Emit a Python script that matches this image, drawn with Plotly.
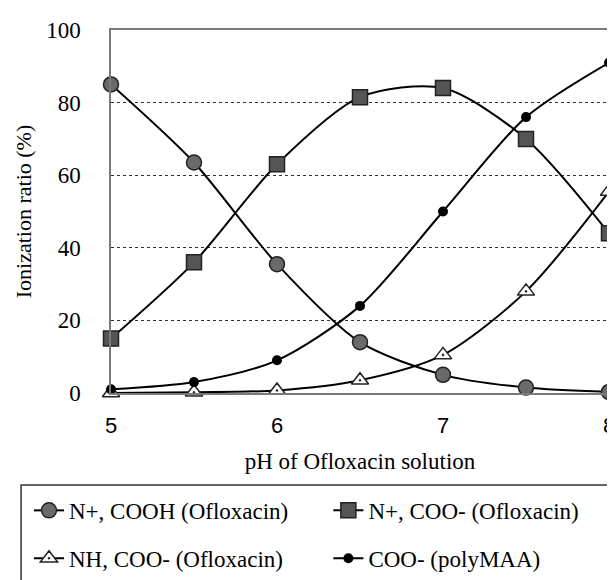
import plotly.graph_objects as go

ph = [5, 5.5, 6, 6.5, 7, 7.5, 8]
n_cooh = [85, 63.5, 35.5, 14, 5, 1.5, 0.3]
n_coo = [15, 36, 63, 81.5, 84, 70, 44]
nh_coo = [0, 0.2, 0.7, 3.5, 10.5, 28, 55.5]
poly_coo = [1, 3, 9, 24, 50, 76, 91]

names = ["N+, COOH (Ofloxacin)", "N+, COO- (Ofloxacin)",
         "NH, COO- (Ofloxacin)", "COO- (polyMAA)"]
x_ticks = [5, 6, 7, 8]
y_ticks = [0, 20, 40, 60, 80, 100]

SERIF = "Liberation Serif"
W, H = 615, 580
L, R, T, B = 103, 8, 22, 187
PW, PH = W - L - R, H - T - B
BOTTOM = H - B


def px_x(x):
    return (x - L) / PW


def px_y(y):
    return (BOTTOM - y) / PH


fig = go.Figure()
specs = [
    (n_cooh, dict(symbol="circle", size=15, color="#6a6a6a", line=dict(color="#222", width=1.5)), "legend"),
    (n_coo, dict(symbol="square", size=15, color="#555555", line=dict(color="#222", width=1.5)), "legend2"),
    (nh_coo, dict(symbol="triangle-up-dot", size=15, color="white", line=dict(color="#222", width=1.5)), "legend3"),
    (poly_coo, dict(symbol="circle", size=10, color="black", line=dict(color="black", width=0)), "legend4"),
]
for name, (vals, mk, lg) in zip(names, specs):
    fig.add_trace(go.Scatter(
        x=ph, y=vals, name=name, mode="lines+markers",
        line=dict(color="black", width=2, shape="spline", smoothing=0.8),
        marker=mk, legend=lg, cliponaxis=False,
    ))

legend_common = dict(
    orientation="h", font=dict(family=SERIF, size=23, color="black"),
    bgcolor="rgba(0,0,0,0)", borderwidth=0,
    xanchor="left", yanchor="middle", itemwidth=30,
)
col1_x, col2_x = px_x(20), px_x(323)
row1_y, row2_y = px_y(513), px_y(562)

fig.update_layout(
    width=W, height=H,
    margin=dict(l=L, r=R, t=T, b=B),
    paper_bgcolor="white", plot_bgcolor="white",
    showlegend=True,
    legend=dict(x=col1_x, y=row1_y, **legend_common),
    legend2=dict(x=col2_x, y=row1_y, **legend_common),
    legend3=dict(x=col1_x, y=row2_y, **legend_common),
    legend4=dict(x=col2_x, y=row2_y, **legend_common),
    xaxis=dict(
        range=[5, 8], tickvals=x_ticks, ticktext=[str(v) for v in x_ticks],
        showgrid=False, zeroline=False,
        showline=True, linecolor="#7a7a7a", linewidth=1.5, mirror=True,
        ticks="", ticklabelstandoff=12,
        tickfont=dict(family="Liberation Sans", size=22, color="black"),
        title=dict(text="pH of Ofloxacin solution", standoff=16,
                   font=dict(family=SERIF, size=23, color="black")),
    ),
    yaxis=dict(
        range=[0, 100], tickvals=y_ticks,
        showgrid=True, gridcolor="#333", griddash="dot", gridwidth=1,
        zeroline=False,
        showline=True, linecolor="#7a7a7a", linewidth=1.5, mirror=True,
        ticks="", ticklabelstandoff=24,
        tickfont=dict(family=SERIF, size=23, color="black"),
        title=dict(text="Ionization ratio (%)", standoff=8,
                   font=dict(family=SERIF, size=22, color="black")),
    ),
    shapes=[dict(type="rect", xref="paper", yref="paper",
                 x0=px_x(12), x1=px_x(612),
                 y0=px_y(598), y1=px_y(487),
                 line=dict(color="#333", width=1.5))],
)
fig.write_html("out.html")
